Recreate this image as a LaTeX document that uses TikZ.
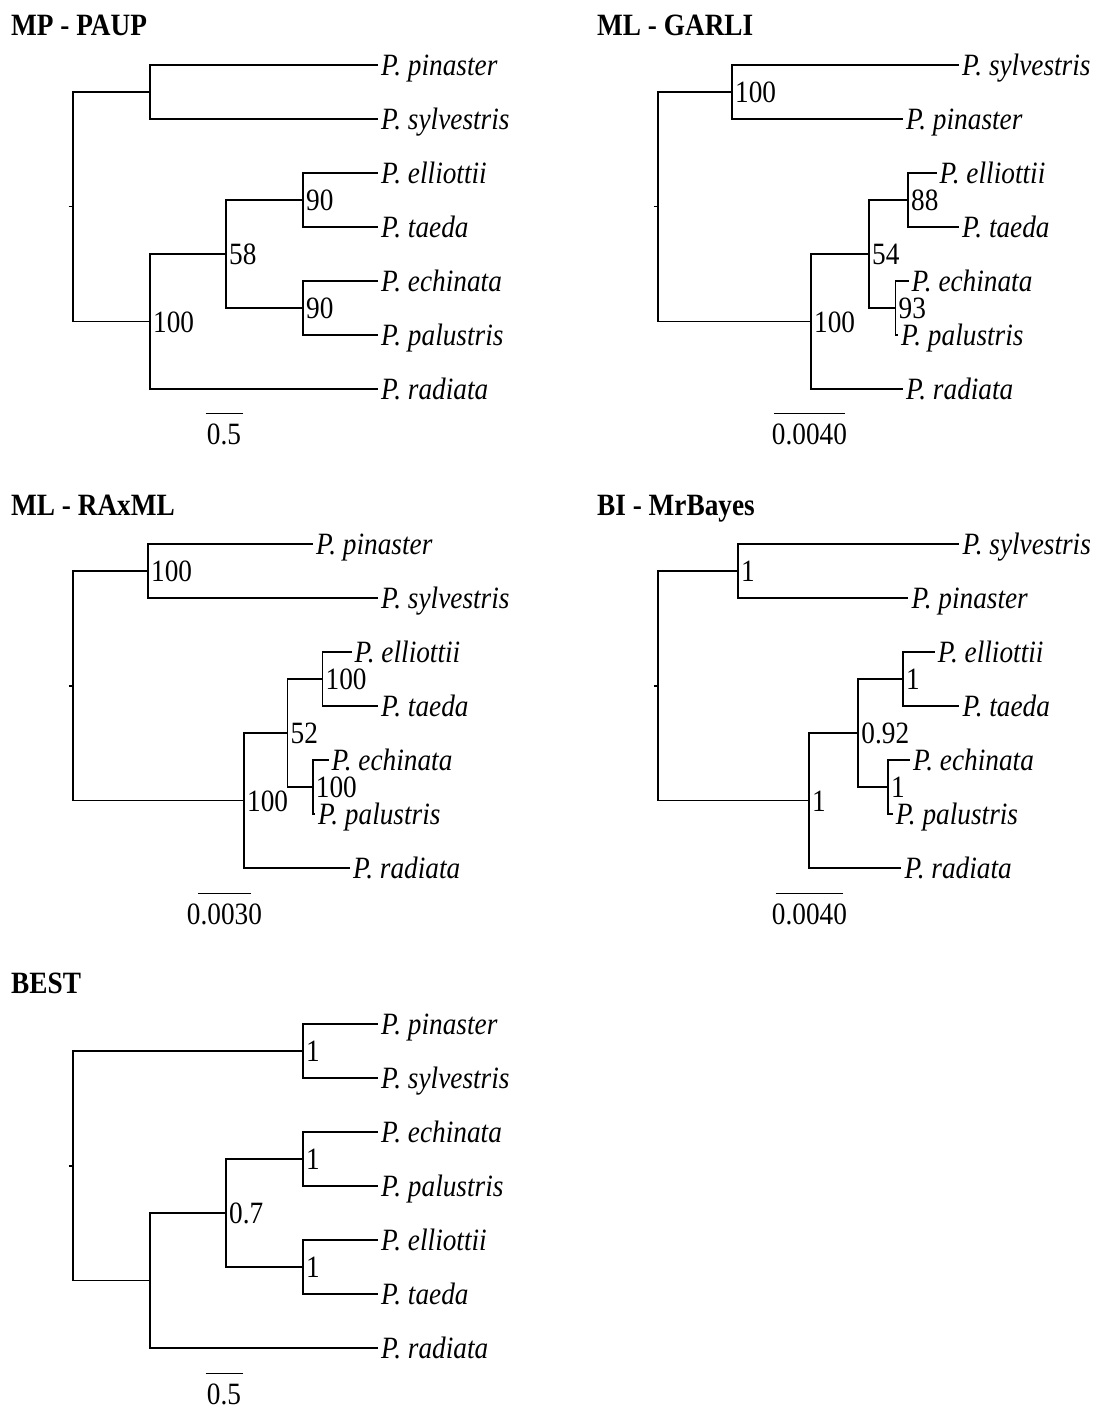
\documentclass[tikz,border=0pt]{standalone}
\usepackage{fontspec}
\setmainfont{Liberation Serif}[FakeStretch=0.88]
\newcommand\fsz{\fontsize{31}{36}\selectfont}
\tikzset{
  br/.style={line width=1.7pt, line join=miter},
  sbar/.style={line width=1.3pt},
  tiplab/.style={anchor=base west, inner sep=0pt, xshift=3pt, yshift=-10.5pt, font=\fsz\itshape},
  suplab/.style={anchor=base west, inner sep=0pt, xshift=3pt, yshift=-10.5pt, font=\fsz},
  ttl/.style={anchor=base west, inner sep=0pt, font=\fsz\bfseries},
  sclab/.style={anchor=base, inner sep=0pt, font=\fsz},
}
\begin{document}
\begin{tikzpicture}[x=1pt,y=-1pt]
\useasboundingbox (0,0) rectangle (1101,1411);
\fill[white] (0,0) rectangle (1101,1411);

% ================= Panel 1: MP - PAUP =================
\node[ttl] (T1) at (11,35.5) {MP - PAUP};
\coordinate (R1) at (73,206.5);
\coordinate (R1t) at (68.5,206.5);
\coordinate (A1) at (150,92);
\coordinate (B1) at (150,321.5);
\coordinate (C1) at (226,254);
\coordinate (D1) at (303,200);
\coordinate (E1) at (303,308);
\coordinate (p1a) at (378,65);
\coordinate (p1b) at (378,119);
\coordinate (p1c) at (378,173);
\coordinate (p1d) at (378,227);
\coordinate (p1e) at (378,281);
\coordinate (p1f) at (378,335);
\coordinate (p1g) at (378,389);
\draw[br] (R1t) -- (R1);
\draw[br] (R1) |- (A1);
\draw[br] (R1) |- (B1);
\draw[br] (A1) |- (p1a);
\draw[br] (A1) |- (p1b);
\draw[br] (B1) |- (C1);
\draw[br] (B1) |- (p1g);
\draw[br] (C1) |- (D1);
\draw[br] (C1) |- (E1);
\draw[br] (D1) |- (p1c);
\draw[br] (D1) |- (p1d);
\draw[br] (E1) |- (p1e);
\draw[br] (E1) |- (p1f);
\node[tiplab] (l1a) at (p1a) {P. pinaster};
\node[tiplab] (l1b) at (p1b) {P. sylvestris};
\node[tiplab] (l1c) at (p1c) {P. elliottii};
\node[tiplab] (l1d) at (p1d) {P. taeda};
\node[tiplab] (l1e) at (p1e) {P. echinata};
\node[tiplab] (l1f) at (p1f) {P. palustris};
\node[tiplab] (l1g) at (p1g) {P. radiata};
\node[suplab] (s1b) at (B1) {100};
\node[suplab] (s1c) at (C1) {58};
\node[suplab] (s1d) at (D1) {90};
\node[suplab] (s1e) at (E1) {90};
\coordinate (S1a) at (205.5,413.6);
\coordinate (S1b) at (243,413.6);
\draw[sbar] (S1a) -- (S1b);
\node[sclab] (sl1) at (224,444) {0.5};

% ================= Panel 2: ML - GARLI =================
\node[ttl] (T2) at (597,35.5) {ML - GARLI};
\coordinate (R2) at (658,206.5);
\coordinate (R2t) at (653.5,206.5);
\coordinate (A2) at (732,92);
\coordinate (B2) at (811,321.5);
\coordinate (C2) at (869,254);
\coordinate (D2) at (908,200);
\coordinate (E2) at (895.5,308);
\coordinate (p2a) at (959,65);
\coordinate (p2b) at (903,119);
\coordinate (p2c) at (936.5,173);
\coordinate (p2d) at (959,227);
\coordinate (p2e) at (908.5,281);
\coordinate (p2f) at (898,335);
\coordinate (p2g) at (903,389);
\draw[br] (R2t) -- (R2);
\draw[br] (R2) |- (A2);
\draw[br] (R2) |- (B2);
\draw[br] (A2) |- (p2a);
\draw[br] (A2) |- (p2b);
\draw[br] (B2) |- (C2);
\draw[br] (B2) |- (p2g);
\draw[br] (C2) |- (D2);
\draw[br] (C2) |- (E2);
\draw[br] (D2) |- (p2c);
\draw[br] (D2) |- (p2d);
\draw[br] (E2) |- (p2e);
\draw[br] (E2) |- (p2f);
\node[tiplab] (l2a) at (p2a) {P. sylvestris};
\node[tiplab] (l2b) at (p2b) {P. pinaster};
\node[tiplab] (l2c) at (p2c) {P. elliottii};
\node[tiplab] (l2d) at (p2d) {P. taeda};
\node[tiplab] (l2e) at (p2e) {P. echinata};
\node[tiplab] (l2f) at (p2f) {P. palustris};
\node[tiplab] (l2g) at (p2g) {P. radiata};
\node[suplab] (s2a) at (A2) {100};
\node[suplab] (s2b) at (B2) {100};
\node[suplab] (s2c) at (C2) {54};
\node[suplab] (s2d) at (D2) {88};
\node[suplab] (s2e) at (E2) {93};
\coordinate (S2a) at (774,413.6);
\coordinate (S2b) at (845,413.6);
\draw[sbar] (S2a) -- (S2b);
\node[sclab] (sl2) at (809.5,444) {0.0040};

% ================= Panel 3: ML - RAxML =================
\node[ttl] (T3) at (11,515.5) {ML - RAxML};
\coordinate (R3) at (73,685.75);
\coordinate (R3t) at (68.5,685.75);
\coordinate (A3) at (148,571);
\coordinate (B3) at (244,800.5);
\coordinate (C3) at (287.5,733);
\coordinate (D3) at (322.5,679);
\coordinate (E3) at (312.7,787);
\coordinate (p3a) at (313,544);
\coordinate (p3b) at (378,598);
\coordinate (p3c) at (351.5,652);
\coordinate (p3d) at (378,706);
\coordinate (p3e) at (328.5,760);
\coordinate (p3f) at (315,814);
\coordinate (p3g) at (350,868);
\draw[br] (R3t) -- (R3);
\draw[br] (R3) |- (A3);
\draw[br] (R3) |- (B3);
\draw[br] (A3) |- (p3a);
\draw[br] (A3) |- (p3b);
\draw[br] (B3) |- (C3);
\draw[br] (B3) |- (p3g);
\draw[br] (C3) |- (D3);
\draw[br] (C3) |- (E3);
\draw[br] (D3) |- (p3c);
\draw[br] (D3) |- (p3d);
\draw[br] (E3) |- (p3e);
\draw[br] (E3) |- (p3f);
\node[tiplab] (l3a) at (p3a) {P. pinaster};
\node[tiplab] (l3b) at (p3b) {P. sylvestris};
\node[tiplab] (l3c) at (p3c) {P. elliottii};
\node[tiplab] (l3d) at (p3d) {P. taeda};
\node[tiplab] (l3e) at (p3e) {P. echinata};
\node[tiplab] (l3f) at (p3f) {P. palustris};
\node[tiplab] (l3g) at (p3g) {P. radiata};
\node[suplab] (s3a) at (A3) {100};
\node[suplab] (s3b) at (B3) {100};
\node[suplab] (s3c) at (C3) {52};
\node[suplab] (s3d) at (D3) {100};
\node[suplab] (s3e) at (E3) {100};
\coordinate (S3a) at (198,893.6);
\coordinate (S3b) at (251,893.6);
\draw[sbar] (S3a) -- (S3b);
\node[sclab] (sl3) at (224.5,924) {0.0030};

% ================= Panel 4: BI - MrBayes =================
\node[ttl] (T4) at (597,515.5) {BI - MrBayes};
\coordinate (R4) at (658,685.75);
\coordinate (R4t) at (653.5,685.75);
\coordinate (A4) at (738,571);
\coordinate (B4) at (809,800.5);
\coordinate (C4) at (858.2,733);
\coordinate (D4) at (903,679);
\coordinate (E4) at (888,787);
\coordinate (p4a) at (959.4,544);
\coordinate (p4b) at (908.4,598);
\coordinate (p4c) at (934.7,652);
\coordinate (p4d) at (959.4,706);
\coordinate (p4e) at (910,760);
\coordinate (p4f) at (892.6,814);
\coordinate (p4g) at (901.4,868);
\draw[br] (R4t) -- (R4);
\draw[br] (R4) |- (A4);
\draw[br] (R4) |- (B4);
\draw[br] (A4) |- (p4a);
\draw[br] (A4) |- (p4b);
\draw[br] (B4) |- (C4);
\draw[br] (B4) |- (p4g);
\draw[br] (C4) |- (D4);
\draw[br] (C4) |- (E4);
\draw[br] (D4) |- (p4c);
\draw[br] (D4) |- (p4d);
\draw[br] (E4) |- (p4e);
\draw[br] (E4) |- (p4f);
\node[tiplab] (l4a) at (p4a) {P. sylvestris};
\node[tiplab] (l4b) at (p4b) {P. pinaster};
\node[tiplab] (l4c) at (p4c) {P. elliottii};
\node[tiplab] (l4d) at (p4d) {P. taeda};
\node[tiplab] (l4e) at (p4e) {P. echinata};
\node[tiplab] (l4f) at (p4f) {P. palustris};
\node[tiplab] (l4g) at (p4g) {P. radiata};
\node[suplab] (s4a) at (A4) {1};
\node[suplab] (s4b) at (B4) {1};
\node[suplab] (s4c) at (C4) {0.92};
\node[suplab] (s4d) at (D4) {1};
\node[suplab] (s4e) at (E4) {1};
\coordinate (S4a) at (775.6,893.6);
\coordinate (S4b) at (843.4,893.6);
\draw[sbar] (S4a) -- (S4b);
\node[sclab] (sl4) at (809.5,924) {0.0040};

% ================= Panel 5: BEST =================
\node[ttl] (T5) at (11,993.5) {BEST};
\coordinate (R5) at (73,1165.75);
\coordinate (R5t) at (68.5,1165.75);
\coordinate (A5) at (303,1051);
\coordinate (B5) at (150,1280.5);
\coordinate (C5) at (226,1213);
\coordinate (D5) at (303,1159);
\coordinate (E5) at (303,1267);
\coordinate (p5a) at (378,1024);
\coordinate (p5b) at (378,1078);
\coordinate (p5c) at (378,1132);
\coordinate (p5d) at (378,1186);
\coordinate (p5e) at (378,1240);
\coordinate (p5f) at (378,1294);
\coordinate (p5g) at (378,1348);
\draw[br] (R5t) -- (R5);
\draw[br] (R5) |- (A5);
\draw[br] (R5) |- (B5);
\draw[br] (A5) |- (p5a);
\draw[br] (A5) |- (p5b);
\draw[br] (B5) |- (C5);
\draw[br] (B5) |- (p5g);
\draw[br] (C5) |- (D5);
\draw[br] (C5) |- (E5);
\draw[br] (D5) |- (p5c);
\draw[br] (D5) |- (p5d);
\draw[br] (E5) |- (p5e);
\draw[br] (E5) |- (p5f);
\node[tiplab] (l5a) at (p5a) {P. pinaster};
\node[tiplab] (l5b) at (p5b) {P. sylvestris};
\node[tiplab] (l5c) at (p5c) {P. echinata};
\node[tiplab] (l5d) at (p5d) {P. palustris};
\node[tiplab] (l5e) at (p5e) {P. elliottii};
\node[tiplab] (l5f) at (p5f) {P. taeda};
\node[tiplab] (l5g) at (p5g) {P. radiata};
\node[suplab] (s5a) at (A5) {1};
\node[suplab] (s5c) at (C5) {0.7};
\node[suplab] (s5d) at (D5) {1};
\node[suplab] (s5e) at (E5) {1};
\coordinate (S5a) at (205.5,1373.6);
\coordinate (S5b) at (243,1373.6);
\draw[sbar] (S5a) -- (S5b);
\node[sclab] (sl5) at (224,1404) {0.5};
\end{tikzpicture}
\end{document}
